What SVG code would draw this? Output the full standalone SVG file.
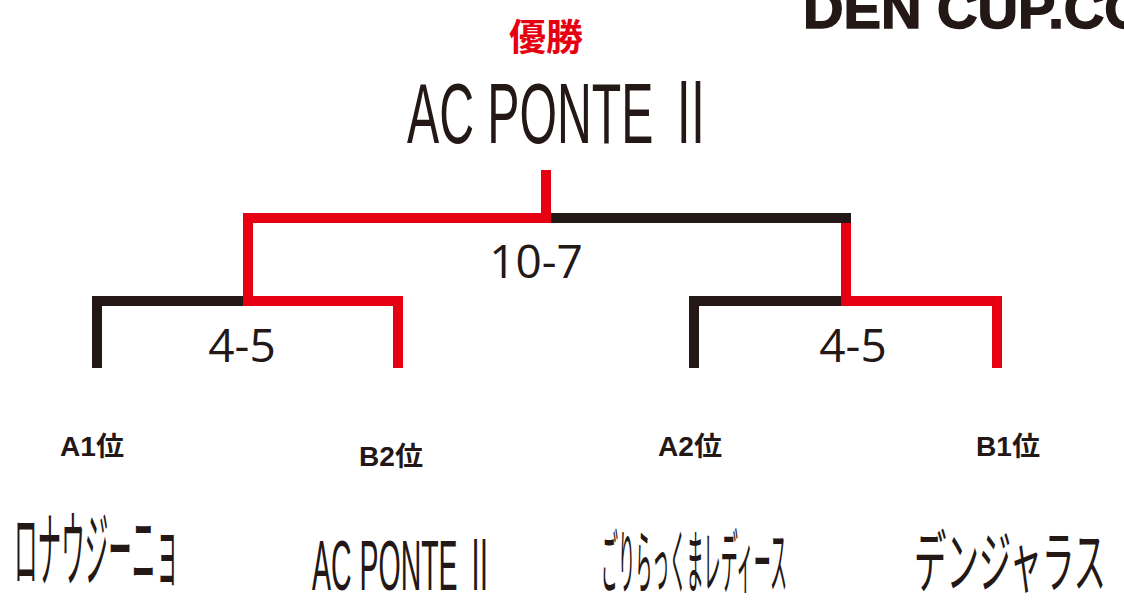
<svg xmlns="http://www.w3.org/2000/svg" width="1124" height="604" viewBox="0 0 1124 604">
<style>
.blk{fill:none;stroke:#231815;stroke-width:10;stroke-linejoin:miter;stroke-linecap:butt}
.red{fill:none;stroke:#e60012;stroke-width:10;stroke-linejoin:miter;stroke-linecap:butt}
.score{font-family:"Open Sans","Noto Sans",sans-serif;font-size:46px;fill:#231815;text-anchor:middle}
.pos{font-family:"Liberation Sans","Noto Sans CJK JP",sans-serif;font-weight:bold;font-size:27px;fill:#231815}
.team{font-family:"Noto Sans CJK JP",sans-serif;fill:#231815}
.latin{font-family:"Liberation Sans","Noto Sans CJK JP",sans-serif;fill:#231815}
</style>
<rect width="1124" height="604" fill="#ffffff"/>
<g id="logo">
<text x="803" y="28" font-family="Liberation Sans, sans-serif" font-weight="bold" font-size="56" fill="#231815" stroke="#231815" stroke-width="1.5" textLength="345" lengthAdjust="spacingAndGlyphs">DEN CUP.CO</text>
</g>
<g id="champion">
<text x="546" y="51" text-anchor="middle" font-family="Noto Sans CJK JP, sans-serif" font-weight="bold" font-size="37" fill="#e60012">優勝</text>
<text x="407" y="143" class="latin" font-size="85" textLength="308" lengthAdjust="spacingAndGlyphs">AC PONTE <tspan font-family="Noto Sans CJK JP, sans-serif">Ⅱ</tspan></text>
</g>
<g id="connectors">
<path class="blk" d="M97,368 V301 H248"/>
<path class="blk" d="M694,368 V301 H846"/>
<path class="blk" d="M551,218 H851"/>
<path class="red" d="M248,301 H398 V368"/>
<path class="red" d="M248,306 V218 H546"/>
<path class="red" d="M546,223 V170"/>
<path class="red" d="M846,223 V301 H997 V368"/>
</g>
<g id="score-final"><text class="score" x="536" y="278">10-7</text></g>
<g id="score-left"><text class="score" x="242" y="362">4-5</text></g>
<g id="score-right"><text class="score" x="853" y="362">4-5</text></g>
<g id="team-a1">
<text class="pos" x="60" y="456" textLength="64" lengthAdjust="spacingAndGlyphs">A1位</text>
<text class="team" x="14" y="580" font-size="83" textLength="165" lengthAdjust="spacingAndGlyphs">ロナウジーニョ</text>
</g>
<g id="team-b2">
<text class="pos" x="359" y="466" textLength="64" lengthAdjust="spacingAndGlyphs">B2位</text>
<text class="latin" x="312" y="590" font-size="70" textLength="182" lengthAdjust="spacingAndGlyphs">AC PONTE <tspan font-family="Noto Sans CJK JP, sans-serif">Ⅱ</tspan></text>
</g>
<g id="team-a2">
<text class="pos" x="658" y="456" textLength="64" lengthAdjust="spacingAndGlyphs">A2位</text>
<text class="team" x="601" y="588" font-size="70" textLength="186" lengthAdjust="spacingAndGlyphs">ごりらっくまレディース</text>
</g>
<g id="team-b1">
<text class="pos" x="976" y="456" textLength="64" lengthAdjust="spacingAndGlyphs">B1位</text>
<text class="team" x="914" y="587" font-size="68" textLength="192" lengthAdjust="spacingAndGlyphs">デンジャラス</text>
</g>
</svg>
